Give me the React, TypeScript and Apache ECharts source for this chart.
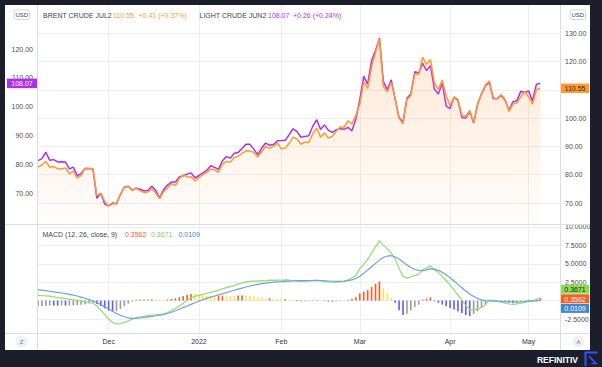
import React, { useEffect, useRef } from "react";
import * as echarts from "echarts";

// ---------- data ----------
const dates = [
  "2021-11-05","2021-11-08","2021-11-09","2021-11-10","2021-11-11","2021-11-12","2021-11-15","2021-11-16","2021-11-17","2021-11-18",
  "2021-11-19","2021-11-22","2021-11-23","2021-11-24","2021-11-25","2021-11-26","2021-11-29","2021-11-30",
  "2021-12-01","2021-12-02","2021-12-03","2021-12-06","2021-12-07","2021-12-08","2021-12-09","2021-12-10","2021-12-13","2021-12-14",
  "2021-12-15","2021-12-16","2021-12-17","2021-12-20","2021-12-21","2021-12-22","2021-12-23","2021-12-24","2021-12-27","2021-12-28",
  "2021-12-29","2021-12-30","2021-12-31",
  "2022-01-03","2022-01-04","2022-01-05","2022-01-06","2022-01-07","2022-01-10","2022-01-11","2022-01-12","2022-01-13","2022-01-14",
  "2022-01-17","2022-01-18","2022-01-19","2022-01-20","2022-01-21","2022-01-24","2022-01-25","2022-01-26","2022-01-27","2022-01-28",
  "2022-01-31",
  "2022-02-01","2022-02-02","2022-02-03","2022-02-04","2022-02-07","2022-02-08","2022-02-09","2022-02-10","2022-02-11","2022-02-14",
  "2022-02-15","2022-02-16","2022-02-17","2022-02-18","2022-02-21","2022-02-22","2022-02-23","2022-02-24","2022-02-25","2022-02-28",
  "2022-03-01","2022-03-02","2022-03-03","2022-03-04","2022-03-07","2022-03-08","2022-03-09","2022-03-10","2022-03-11","2022-03-14",
  "2022-03-15","2022-03-16","2022-03-17","2022-03-18","2022-03-21","2022-03-22","2022-03-23","2022-03-24","2022-03-25","2022-03-28",
  "2022-03-29","2022-03-30","2022-03-31",
  "2022-04-01","2022-04-04","2022-04-05","2022-04-06","2022-04-07","2022-04-08","2022-04-11","2022-04-12","2022-04-13","2022-04-14",
  "2022-04-18","2022-04-19","2022-04-20","2022-04-21","2022-04-22","2022-04-25","2022-04-26","2022-04-27","2022-04-28","2022-04-29",
  "2022-05-02","2022-05-03","2022-05-04","2022-05-05",
];
// empty slots on the right of the last bar
const futureDates = ["2022-05-06","2022-05-09","2022-05-10","2022-05-11","2022-05-12"];

// BRENT CRUDE JUL2 (orange, right scale)
const brent = [
  82.74,83.43,84.78,82.64,82.87,82.17,82.05,82.43,80.28,81.24,
  78.89,79.70,82.31,82.25,82.20,72.72,73.44,70.57,68.87,69.67,
  69.88,73.08,75.44,75.82,74.42,75.15,74.39,73.70,73.88,75.02,
  73.52,71.52,73.98,75.29,76.85,76.14,78.60,79.94,79.23,79.32,
  77.78,78.98,80.00,80.80,81.99,81.75,80.87,83.72,84.67,84.47,
  86.06,86.48,87.51,88.44,88.38,87.89,86.27,88.20,89.96,89.34,
  90.03,91.21,89.16,89.47,91.11,93.27,92.69,90.78,91.55,91.41,
  94.44,96.48,93.28,94.81,92.97,93.54,95.39,96.84,96.84,99.08,
  97.93,100.99,104.97,112.93,110.46,118.11,123.21,127.98,111.14,109.33,
  112.67,106.90,99.91,98.02,106.64,107.93,115.62,115.48,121.60,119.03,
  120.65,112.48,110.23,113.45,107.91,104.39,107.53,106.64,101.07,100.58,
  102.78,98.48,104.64,108.78,111.70,113.16,107.25,106.80,108.33,106.65,
  102.32,104.99,105.32,107.59,109.34,107.58,104.97,110.14,110.55,
];

// LIGHT CRUDE JUN2 (purple, left scale)
const wti = [
  81.27,81.93,84.15,81.34,81.59,80.79,80.88,80.76,78.36,79.01,
  75.94,76.75,78.50,78.39,78.40,68.15,69.95,66.18,65.57,66.50,
  66.26,69.49,72.05,72.36,70.94,71.67,71.29,70.73,70.87,72.38,
  70.86,68.23,71.12,72.76,73.79,73.79,75.57,75.98,76.56,76.99,
  75.21,76.08,76.99,77.85,79.46,78.90,78.23,81.22,82.64,82.12,
  83.82,84.10,85.43,86.96,86.90,85.14,83.31,85.60,87.35,86.61,
  86.82,88.15,88.20,88.26,90.27,92.31,91.32,89.36,89.66,89.88,
  93.10,95.46,92.07,93.66,91.76,91.07,91.90,92.35,92.10,92.81,
  91.59,95.72,102.50,110.50,107.80,116.00,119.50,123.70,108.70,105.90,
  109.30,102.70,96.20,94.60,102.90,104.40,112.10,111.70,115.00,112.50,
  114.20,106.00,104.40,108.20,100.20,99.30,103.30,102.10,96.20,96.00,
  98.40,94.30,100.80,104.40,107.20,108.50,102.70,102.80,103.90,102.20,
  98.70,101.70,102.00,105.30,104.90,105.40,102.00,107.80,108.07,
];

// MACD (12, 26, close, 9)
const macdLine = [
  0.72,0.68,0.65,0.61,0.51,0.41,0.37,0.27,0.19,0.11,
  0.02,-0.07,-0.18,-0.26,-0.36,-0.73,-1.30,-1.90,-2.50,-2.95,
  -3.17,-3.12,-2.95,-2.75,-2.54,-2.32,-2.22,-2.13,-2.04,-1.96,
  -1.92,-1.87,-1.80,-1.61,-1.36,-1.08,-0.72,-0.35,0.05,0.38,
  0.58,0.72,0.84,1.00,1.12,1.25,1.43,1.61,1.76,1.90,
  2.04,2.23,2.40,2.55,2.60,2.65,2.65,2.70,2.68,2.77,
  2.75,2.77,2.76,2.82,2.77,2.73,2.65,2.61,2.63,2.68,
  2.75,2.79,2.72,2.62,2.54,2.49,2.51,2.55,2.63,2.82,
  3.07,3.45,4.30,4.92,5.60,6.45,7.30,8.10,7.50,7.05,
  6.45,5.65,4.35,3.30,3.05,3.20,3.39,3.55,4.22,4.43,
  4.75,4.18,3.80,3.30,2.73,2.10,1.45,0.75,0.05,-0.65,
  -1.20,-1.25,-1.17,-0.90,-0.55,0.05,0.04,-0.02,-0.22,-0.34,
  -0.46,-0.52,-0.45,-0.34,-0.24,0.02,-0.01,0.19,0.3671,
];
const signalLine = [
  1.50,1.42,1.35,1.27,1.19,1.11,1.03,0.95,0.85,0.74,
  0.62,0.48,0.32,0.14,-0.06,-0.28,-0.55,-0.85,-1.15,-1.45,
  -1.75,-2.00,-2.20,-2.35,-2.42,-2.42,-2.36,-2.28,-2.20,-2.13,
  -2.06,-1.99,-1.90,-1.75,-1.58,-1.38,-1.17,-0.95,-0.73,-0.52,
  -0.30,-0.08,0.12,0.30,0.47,0.63,0.78,0.93,1.08,1.24,
  1.40,1.55,1.70,1.85,1.98,2.10,2.20,2.30,2.38,2.45,
  2.50,2.55,2.58,2.62,2.65,2.68,2.70,2.71,2.71,2.70,
  2.70,2.71,2.70,2.68,2.66,2.63,2.61,2.60,2.65,2.72,
  2.82,3.00,3.30,3.70,4.15,4.60,5.05,5.50,5.85,6.05,
  6.10,5.95,5.65,5.25,4.85,4.50,4.25,4.10,4.08,4.18,
  4.30,4.28,4.10,3.85,3.50,3.10,2.65,2.20,1.75,1.30,
  0.90,0.55,0.28,0.10,0.00,-0.05,-0.08,-0.10,-0.12,-0.14,
  -0.16,-0.17,-0.17,-0.16,-0.14,-0.10,-0.06,-0.03,0.0109,
];
const histogram = [
  -0.78,-0.74,-0.70,-0.66,-0.68,-0.70,-0.66,-0.68,-0.66,-0.63,
  -0.60,-0.55,-0.50,-0.40,-0.30,-0.45,-0.75,-1.05,-1.35,-1.50,
  -1.42,-1.12,-0.75,-0.40,-0.12,0.10,0.14,0.15,0.16,0.17,
  0.14,0.12,0.10,0.14,0.22,0.30,0.45,0.60,0.78,0.90,
  0.88,0.80,0.72,0.70,0.65,0.62,0.65,0.68,0.68,0.66,
  0.64,0.68,0.70,0.70,0.62,0.55,0.45,0.40,0.30,0.32,
  0.25,0.22,0.18,0.20,0.12,0.05,-0.05,-0.10,-0.08,-0.02,
  0.05,0.08,0.02,-0.06,-0.12,-0.14,-0.10,-0.05,-0.02,0.10,
  0.25,0.45,1.00,1.22,1.45,1.85,2.25,2.60,1.65,1.00,
  0.35,-0.30,-1.30,-1.95,-1.80,-1.30,-0.86,-0.55,0.14,0.25,
  0.45,-0.10,-0.30,-0.55,-0.77,-1.00,-1.20,-1.45,-1.70,-1.95,
  -2.10,-1.80,-1.45,-1.00,-0.55,0.10,0.12,0.08,-0.10,-0.20,
  -0.30,-0.35,-0.28,-0.18,-0.10,0.12,0.05,0.22,0.3562,
];

// axis ticks / labels
const monthTickDates = ["2021-12-01","2022-01-03","2022-02-01","2022-03-01","2022-04-01","2022-05-02"];
const monthTickLabels = ["Dec","2022","Feb","Mar","Apr","May"];
const wtiTicks = [70, 80, 90, 100, 110, 120];
const brentTicks = [70, 80, 90, 100, 110, 120, 130];
const macdGridTicks = [-2.5, 0, 2.5, 5, 7.5, 10];
const macdLabelTicks = [-2.5, 2.5, 5, 7.5, 10];

// header texts
const brentName = "BRENT CRUDE JUL2";
const brentLast = "110.55";
const brentChange = "+0.41 (+0.37%)";
const wtiName = "LIGHT CRUDE JUN2";
const wtiLast = "108.07";
const wtiChange = "+0.26 (+0.24%)";
const macdTitle = "MACD (12, 26, close, 9)";
const macdLast = "0.3671";
const histLast = "0.3562";
const signalLast = "0.0109";

// ---------- styles ----------
const FONT = '"Liberation Sans", Arial, sans-serif';
const ORANGE = "#ff9a2e";
const PURPLE = "#b02cf0";
const GREEN = "#94dd6c";
const BLUE = "#6ca5de";
const H_RED = "#ff5a1f";
const H_YELLOW = "#ffe24a";
const H_BLUE = "#5d5dff";
const H_GRAY = "#9a9a9a";
const BOX_GREEN = "#8ade4e";
const BOX_RED = "#ff5a1f";
const BOX_BLUE = "#3f86d4";
const GRID = "#eceef3";
const SEP = "#dadde4";
const LABEL = "#4d4d4d";

function txt(id: string, x: number, y: number, text: string, fill: string, size = 7, align = "left", weight = "normal") {
  return {
    type: "text",
    id,
    x,
    y,
    z: 100,
    style: {
      text,
      fill,
      fontSize: size,
      fontFamily: FONT,
      fontWeight: weight,
      textAlign: align,
      align,
      textVerticalAlign: "middle",
      verticalAlign: "middle",
    },
  };
}

function box(id: string, x: number, cy: number, w: number, h: number, bg: string, text: string, fg: string) {
  return [
    { type: "rect", id: id + "-r", z: 100, shape: { x, y: cy - h / 2, width: w, height: h }, style: { fill: bg } },
    txt(id + "-t", x + w / 2, cy + 0.3, text, fg, 7, "center"),
  ];
}

export default function App() {
  const ref = useRef<HTMLDivElement>(null);

  useEffect(() => {
    const el = ref.current;
    if (!el) return;
    const chart = echarts.init(el, undefined, { renderer: "svg" });

    const allDates = dates.concat(futureDates);
    const isTick = (v: string) => monthTickDates.indexOf(v) >= 0;

    const histData = histogram.map((h, i) => {
      const prev = i > 0 ? histogram[i - 1] : -Infinity;
      let color;
      if (h >= 0) color = h > prev ? H_RED : H_YELLOW;
      else color = h < prev ? H_BLUE : H_GRAY;
      return { value: h, itemStyle: { color } };
    });

    const catAxis = (gridIndex: number, showLabel: boolean) => ({
      type: "category",
      gridIndex,
      data: allDates,
      boundaryGap: false,
      axisLine: { show: false },
      axisTick: { show: false },
      axisPointer: { show: false },
      axisLabel: {
        show: showLabel,
        interval: (_i: number, v: string) => isTick(v),
        formatter: (v: string) => monthTickLabels[monthTickDates.indexOf(v)] || "",
        color: "#333",
        fontSize: 7,
        fontFamily: FONT,
        margin: 5,
      },
      splitLine: {
        show: true,
        interval: (_i: number, v: string) => isTick(v),
        lineStyle: { color: GRID, width: 1 },
      },
    });

    const labelStyle = { color: LABEL, fontSize: 7, fontFamily: FONT, margin: 5 };

    chart.setOption({
      animation: false,
      backgroundColor: "transparent",
      textStyle: { fontFamily: FONT },
      grid: [
        { left: 38, top: 5, width: 522, height: 219 },
        { left: 38, top: 224, width: 522, height: 109 },
      ],
      xAxis: [catAxis(0, false), catAxis(1, true)],
      yAxis: [
        {
          type: "value",
          gridIndex: 0,
          position: "left",
          min: 59.24,
          max: 135.28,
          axisLine: { show: false },
          axisTick: { show: false, customValues: wtiTicks },
          splitLine: { show: false },
          axisLabel: { ...labelStyle, customValues: wtiTicks, formatter: (v: number) => v.toFixed(2) },
        },
        {
          type: "value",
          gridIndex: 0,
          position: "right",
          min: 62.58,
          max: 140,
          axisLine: { show: false },
          axisTick: { show: false, customValues: brentTicks },
          splitLine: { show: true, lineStyle: { color: GRID, width: 1 } },
          axisLabel: { ...labelStyle, customValues: brentTicks, formatter: (v: number) => v.toFixed(2) },
        },
        {
          type: "value",
          gridIndex: 1,
          position: "right",
          min: -4.4,
          max: 10.4,
          axisLine: { show: false },
          axisTick: { show: false, customValues: macdGridTicks },
          splitLine: { show: true, lineStyle: { color: GRID, width: 1 } },
          axisLabel: { ...labelStyle, customValues: macdLabelTicks, formatter: (v: number) => v.toFixed(4) },
        },
      ],
      series: [
        {
          type: "line",
          name: wtiName,
          xAxisIndex: 0,
          yAxisIndex: 0,
          data: wti,
          symbol: "none",
          silent: true,
          lineStyle: { color: PURPLE, width: 1.5 },
          z: 3,
        },
        {
          type: "line",
          name: brentName,
          xAxisIndex: 0,
          yAxisIndex: 1,
          data: brent,
          symbol: "none",
          silent: true,
          lineStyle: { color: ORANGE, width: 1.5 },
          areaStyle: {
            origin: "start",
            color: new echarts.graphic.LinearGradient(0, 0, 0, 1, [
              { offset: 0, color: "rgba(255,145,55,0.30)" },
              { offset: 1, color: "rgba(255,145,55,0.03)" },
            ]),
          },
          z: 4,
        },
        {
          type: "bar",
          name: "Histogram",
          xAxisIndex: 1,
          yAxisIndex: 2,
          data: histData,
          barWidth: 1.6,
          silent: true,
          z: 2,
        },
        {
          type: "line",
          name: "MACD",
          xAxisIndex: 1,
          yAxisIndex: 2,
          data: macdLine,
          symbol: "none",
          silent: true,
          lineStyle: { color: GREEN, width: 1.2 },
          z: 3,
        },
        {
          type: "line",
          name: "Signal",
          xAxisIndex: 1,
          yAxisIndex: 2,
          data: signalLine,
          symbol: "none",
          silent: true,
          lineStyle: { color: BLUE, width: 1.2 },
          z: 3,
        },
      ],
    });

    // pixel positions of last-value tags from the axes' own scales
    const yW = chart.convertToPixel({ yAxisIndex: 0 }, Number(wtiLast)) as number;
    const yB = chart.convertToPixel({ yAxisIndex: 1 }, Number(brentLast)) as number;
    const rawMacd = [macdLast, histLast, signalLast].map(
      (v) => chart.convertToPixel({ yAxisIndex: 2 }, Number(v)) as number
    );
    const mean = (rawMacd[0] + rawMacd[1] + rawMacd[2]) / 3;
    const step = 9.6;

    const elements: any[] = [
      // frame separators
      { type: "line", id: "sepL", z: 90, shape: { x1: 37.5, y1: 5, x2: 37.5, y2: 350 }, style: { stroke: SEP, lineWidth: 1 } },
      { type: "line", id: "sepR", z: 90, shape: { x1: 560.5, y1: 5, x2: 560.5, y2: 350 }, style: { stroke: SEP, lineWidth: 1 } },
      { type: "line", id: "sepM", z: 90, shape: { x1: 5, y1: 224.5, x2: 590, y2: 224.5 }, style: { stroke: SEP, lineWidth: 1 } },
      { type: "line", id: "sepB", z: 90, shape: { x1: 5, y1: 333.5, x2: 590, y2: 333.5 }, style: { stroke: SEP, lineWidth: 1 } },
      // USD badges
      { type: "rect", id: "usdL", z: 100, shape: { x: 14, y: 10, width: 15.5, height: 9.5, r: 2 }, style: { fill: "#fff", stroke: "#d3d6dd", lineWidth: 1 } },
      txt("usdLt", 21.8, 15, "USD", "#444", 6, "center"),
      { type: "rect", id: "usdR", z: 100, shape: { x: 570, y: 10, width: 15.5, height: 9.5, r: 2 }, style: { fill: "#fff", stroke: "#d3d6dd", lineWidth: 1 } },
      txt("usdRt", 577.8, 15, "USD", "#444", 6, "center"),
      // header legend
      txt("lg1", 43, 15, brentName, "#444"),
      txt("lg2", 113, 15, brentLast, ORANGE),
      txt("lg3", 138.5, 15, brentChange, ORANGE),
      txt("lg4", 199.5, 15, wtiName, "#444"),
      txt("lg5", 268, 15, wtiLast, PURPLE),
      txt("lg6", 293, 15, wtiChange, PURPLE),
      // MACD legend
      txt("mg1", 42.5, 234, macdTitle, "#444"),
      txt("mg2", 125, 234, histLast, H_RED),
      txt("mg3", 151, 234, macdLast, "#7fd354"),
      txt("mg4", 178.5, 234, signalLast, BOX_BLUE),
      // time-axis buttons
      { type: "circle", id: "zc", z: 100, shape: { cx: 21.5, cy: 341.5, r: 6 }, style: { fill: "#eef0f4" } },
      txt("zt", 21.5, 341.8, "Z", "#777", 6, "center"),
      { type: "circle", id: "ac", z: 100, shape: { cx: 578.5, cy: 341.5, r: 6 }, style: { fill: "#eef0f4" } },
      txt("at", 578.5, 341.8, "A", "#777", 6, "center"),
      // brand
      txt("brand", 578, 359.5, "REFINITIV", "#ffffff", 8.5, "right", "bold"),
      { type: "polyline", id: "logo1", z: 100, shape: { points: [[585.5, 366], [585.5, 352.5], [597.5, 352.5]] }, style: { stroke: "#2f55ff", lineWidth: 2, fill: "none" } },
      { type: "polyline", id: "logo2", z: 100, shape: { points: [[589, 356], [596, 363.5], [591.5, 363.5]] }, style: { stroke: "#2f55ff", lineWidth: 1.6, fill: "none" } },
      // last-value tags
      ...box("tagW", 7, yW, 30, 9.5, PURPLE, wtiLast, "#ffffff"),
      ...box("tagB", 561, yB, 28, 9.5, ORANGE, brentLast, "#2b2b2b"),
      ...box("tagM", 561, mean - step, 28, 9, BOX_GREEN, macdLast, "#1f1f1f"),
      ...box("tagH", 561, mean, 28, 9, BOX_RED, histLast, "#ffffff"),
      ...box("tagS", 561, mean + step, 28, 9, BOX_BLUE, signalLast, "#ffffff"),
    ];

    chart.setOption({ graphic: { elements } });

    return () => chart.dispose();
  }, []);

  return (
    <div style={{ position: "fixed", left: 0, top: 0, width: 602, height: 367, background: "#1c1f2b" }}>
      <div style={{ position: "absolute", left: 5, top: 5, width: 585, height: 345, background: "#ffffff" }} />
      <div ref={ref} style={{ position: "absolute", left: 0, top: 0, width: 602, height: 367 }} />
    </div>
  );
}
